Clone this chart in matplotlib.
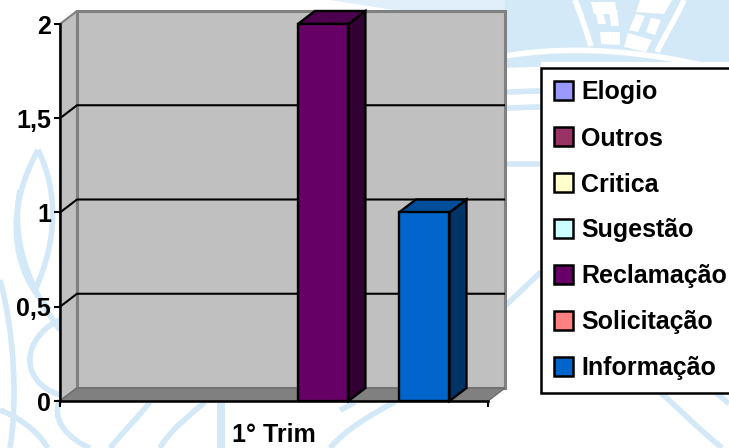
import matplotlib
matplotlib.use('Agg')
import matplotlib.pyplot as plt
from matplotlib.patches import Patch, Polygon, PathPatch
from matplotlib.path import Path

# valores do grafico (1 trimestre)
series = ['Elogio', 'Outros', 'Critica', 'Sugestão', 'Reclamação', 'Solicitação', 'Informação']
values = [0, 0, 0, 0, 2, 0, 1]
colors = ['#9999ff', '#993366', '#ffffcc', '#ccffff', '#660066', '#ff8080', '#0066cc']
side_colors = ['#4d4d80', '#4d1a33', '#808066', '#668080', '#330033', '#804040', '#003366']
top_colors = ['#7373bf', '#73264d', '#bfbf99', '#99bfbf', '#4d004d', '#bf6060', '#004d99']
y_ticks = [0, 0.5, 1, 1.5, 2]
y_labels = ['0', '0,5', '1', '1,5', '2']
category = '1° Trim'

W, H = 729, 448
plt.rcParams['font.family'] = ['Liberation Sans', 'DejaVu Sans']

fig = plt.figure(figsize=(W / 100, H / 100), dpi=100)

# marca d'agua do fundo, em pixels
bg = fig.add_axes([0, 0, 1, 1], zorder=0)
bg.set_xlim(0, W)
bg.set_ylim(H, 0)
bg.axis('off')
wm = '#d3e9f8'

# parte de cima a direita: area azul com os azulejos brancos
bg.fill([505, 729, 729, 505], [0, 0, 62, 62], color=wm, lw=0)
bg.fill([330, 505, 505, 400], [0, 0, 11, 11], color=wm, lw=0, alpha=0.7)
tiles = [
    [(591, 2), (615, 2), (617, 14), (594, 14)],
    [(640, 0), (672, 0), (664, 14), (636, 12)],
    [(595, 10), (602, 10), (606, 24), (598, 24)],
    [(609, 10), (617, 10), (619, 26), (611, 26)],
    [(636, 14), (645, 16), (638, 32), (629, 30)],
    [(651, 18), (661, 20), (655, 35), (646, 32)],
    [(600, 32), (620, 32), (620, 45), (601, 44)],
    [(628, 33), (652, 40), (646, 52), (624, 47)],
]
for t in tiles:
    bg.add_patch(Polygon(t, fc='white', ec='none'))
white_curves = [
    [(575, 0), (581, 15), (586, 30), (591, 46)],
    [(684, 0), (675, 20), (665, 35), (657, 52)],
    [(505, 56), (570, 45), (650, 50), (729, 72)],
]
code = [Path.MOVETO, Path.CURVE4, Path.CURVE4, Path.CURVE4]
for c in white_curves:
    bg.add_patch(PathPatch(Path(c, code), fc='none', ec='white', lw=4))

curves = [
    # folhas do lado esquerdo
    [(38, 150), (5, 210), (10, 270), (50, 310)],
    [(38, 150), (58, 190), (58, 240), (35, 290)],
    [(20, 190), (10, 240), (30, 290), (60, 330)],
    [(0, 280), (14, 330), (18, 400), (10, 448)],
    [(60, 320), (25, 335), (15, 380), (60, 395)],
    [(0, 410), (25, 420), (40, 435), (48, 448)],
    [(60, 400), (50, 420), (70, 440), (90, 448)],
    # faixas embaixo do grafico
    [(110, 448), (125, 430), (140, 415), (150, 402)],
    [(160, 448), (170, 430), (190, 415), (205, 402)],
    [(330, 448), (345, 430), (370, 415), (395, 402)],
    [(355, 402), (350, 405), (345, 408), (340, 410)],
    # faixas a direita do grafico
    [(505, 65), (515, 65), (530, 64), (541, 64)],
    [(505, 92), (515, 92), (530, 91), (541, 91)],
    [(505, 108), (515, 108), (530, 107), (541, 107)],
    [(505, 164), (515, 164), (530, 164), (541, 164)],
    [(505, 306), (517, 295), (530, 282), (541, 272)],
    # embaixo a direita
    [(660, 392), (680, 410), (700, 430), (722, 448)],
    [(715, 392), (720, 396), (725, 400), (729, 404)],
]
for c in curves:
    bg.add_patch(PathPatch(Path(c, code), fc='none', ec=wm, lw=4))
bg.fill([217, 225, 225, 217], [402, 402, 448, 448], color=wm, lw=0)

# eixos no plano da frente do grafico 3D
ax = fig.add_axes([60 / W, 1 - 401 / H, (488 - 60) / W, (401 - 24) / H], zorder=1)
ax.patch.set_alpha(0)
ax.set_xlim(-1.21, 7.263)
ax.set_ylim(0, 2)

# profundidade em unidades de dados
dx = 17 / (428 / 8.473)
dy = 13 / (377 / 2)
x0, x1 = ax.get_xlim()
y_top = y_ticks[-1]

wall = '#c0c0c0'
edge = '#808080'
ax.add_patch(Polygon([(x0, 0), (x0 + dx, dy), (x0 + dx, y_top + dy), (x0, y_top)],
                     fc=wall, ec=edge, lw=1.5, clip_on=False, zorder=1))
ax.add_patch(Polygon([(x0 + dx, dy), (x1 + dx, dy), (x1 + dx, y_top + dy), (x0 + dx, y_top + dy)],
                     fc=wall, ec=edge, lw=2.2, clip_on=False, zorder=1))
ax.add_patch(Polygon([(x0, 0), (x1, 0), (x1 + dx, dy), (x0 + dx, dy)],
                     fc=edge, ec='#6e6e6e', lw=1, clip_on=False, zorder=2))

# linhas de grade na parede do fundo e na lateral
for t in y_ticks[1:-1]:
    ax.plot([x0, x0 + dx, x1 + dx - 0.02], [t, t + dy, t + dy], color='black', lw=1.5,
            clip_on=False, zorder=3, solid_joinstyle='miter')

for i, v in enumerate(values):
    if v <= 0:
        continue
    l, r = i - 0.5, i + 0.5
    ax.bar(i, v, width=1, color=colors[i], edgecolor='black', lw=1.7, zorder=5, clip_on=False)
    ax.add_patch(Polygon([(r, 0), (r + dx, dy), (r + dx, v + dy), (r, v)],
                         fc=side_colors[i], ec='black', lw=1.7, clip_on=False, zorder=4))
    ax.add_patch(Polygon([(l, v), (r, v), (r + dx, v + dy), (l + dx, v + dy)],
                         fc=top_colors[i], ec='black', lw=1.7, clip_on=False, zorder=4))

for s in ['top', 'right']:
    ax.spines[s].set_visible(False)
for s in ['left', 'bottom']:
    ax.spines[s].set_linewidth(1.8)
    ax.spines[s].set_zorder(6)
ax.set_yticks(y_ticks)
ax.set_yticklabels(y_labels, fontsize=18, fontweight='bold')
ax.set_xticks([x0, x1])
ax.set_xticklabels(['', ''])
ax.tick_params(axis='y', length=4.5, width=1.5, pad=2)
ax.tick_params(axis='x', length=4.5, width=1.5, direction='out')
ax.set_xlabel(category, fontsize=18, fontweight='bold', labelpad=8)

handles = [Patch(fc=c, ec='black', lw=1.8) for c in colors]
leg = fig.legend(handles, series, loc='upper left', bbox_to_anchor=(541 / W, 1 - 68 / H),
                 bbox_transform=fig.transFigure, borderaxespad=0,
                 prop={'size': 18, 'weight': 'bold'},
                 handlelength=0.78, handleheight=0.78, handletextpad=0.32, labelspacing=0.88,
                 borderpad=0.5, fancybox=False, framealpha=1, facecolor='white',
                 edgecolor='black')
leg.get_frame().set_linewidth(1.8)
leg.set_zorder(3)

fig.savefig('out.png', dpi=100)
